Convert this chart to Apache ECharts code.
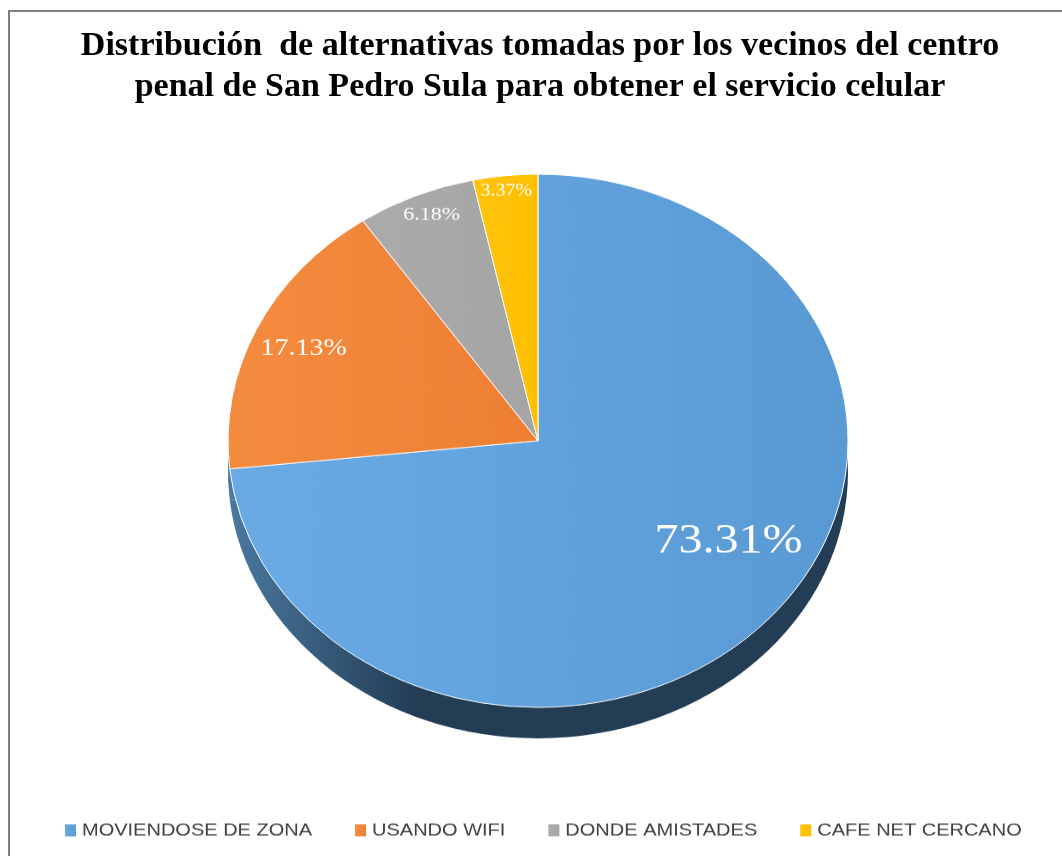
<!DOCTYPE html>
<html>
<head>
<meta charset="utf-8">
<script src="https://cdn.jsdelivr.net/npm/echarts@6/dist/echarts.min.js"></script>
<style>
  html, body { margin: 0; padding: 0; background: #fff; overflow: hidden; }
  #page { position: relative; width: 1062px; height: 856px; overflow: hidden; }
  #frame { position: absolute; left: 8px; top: 10px; width: 1100px; height: 900px;
           border-left: 2px solid #808080; border-top: 2px solid #808080; }
  #titulo { position: absolute; left: 0; top: 0; width: 1062px; height: 130px; }
  /* el pastel se aplana para dar el efecto 3D de Excel */
  #pastel { position: absolute; left: 0; top: 120px; width: 1062px; height: 856px;
            transform: scaleY(0.86); transform-origin: 0 0; }
</style>
</head>
<body>
<div id="page">
  <div id="frame"></div>
  <div id="titulo"></div>
  <div id="pastel"></div>
</div>
<script>
// datos
const categorias = ['MOVIENDOSE DE ZONA', 'USANDO WIFI', 'DONDE AMISTADES', 'CAFE NET CERCANO'];
const porcentajes = [73.31, 17.13, 6.18, 3.37];

// estilos
const coloresCara = [
  ['#6aabe5', '#5a9ad4'],
  ['#f48c3f', '#ee7f33'],
  ['#ababab', '#a5a5a5'],
  ['#ffc40d', '#ffbf00']
];
const coloresLado = [
  ['#4a78a0', '#233d55'],
  ['#4a78a0', '#4a78a0'],
  ['#707070', '#555555'],
  ['#b08a10', '#8a6a00']
];
const tamLetra = [48, 28, 22, 20];
const desplaz = [[73, 12], [-91, -41], [-44, -118], [-15, -133]];

function grad(c, corte) {
  return {
    type: 'linear', x: 0, y: 0, x2: 1, y2: 0,
    colorStops: [{ offset: 0, color: c[0] }, { offset: corte, color: c[1] }, { offset: 1, color: c[1] }]
  };
}

// titulo
var chartTitulo = echarts.init(document.getElementById('titulo'));
chartTitulo.setOption({
  title: {
    text: 'Distribución  de alternativas tomadas por los vecinos del centro\npenal de San Pedro Sula para obtener el servicio celular',
    left: 535,
    top: 21,
    textAlign: 'center',
    textStyle: {
      fontFamily: 'Liberation Serif',
      fontWeight: 'bold',
      fontSize: 34,
      lineHeight: 41,
      color: '#000'
    }
  }
});

// pastel
var myChart = echarts.init(document.getElementById('pastel'));
myChart.setOption({
  animation: false,
  legend: {
    data: categorias,
    left: 58,
    top: 811,
    itemWidth: 13,
    itemHeight: 16,
    itemGap: 41,
    icon: 'rect',
    textStyle: {
      fontFamily: 'Liberation Sans',
      fontSize: 20,
      color: '#404040'
    }
  },
  series: [
    {
      name: 'cara',
      type: 'pie',
      center: [538, 373],
      radius: 310,
      startAngle: 90,
      clockwise: true,
      silent: true,
      z: 3,
      itemStyle: { borderColor: '#ffffff', borderWidth: 1 },
      label: {
        show: true,
        position: 'inside',
        color: '#fff',
        fontFamily: 'Liberation Serif',
        formatter: function (p) { return p.value.toFixed(2) + '%'; }
      },
      labelLayout: function (p) {
        return { dx: desplaz[p.dataIndex][0], dy: desplaz[p.dataIndex][1] };
      },
      data: categorias.map(function (n, i) {
        return {
          name: n,
          value: porcentajes[i],
          itemStyle: { color: grad(coloresCara[i], 1) },
          label: { fontSize: tamLetra[i] }
        };
      })
    },
    {
      name: 'lado',
      type: 'pie',
      center: [538, 409],
      radius: 310,
      startAngle: 90,
      clockwise: true,
      silent: true,
      z: 1,
      label: { show: false },
      labelLine: { show: false },
      data: categorias.map(function (n, i) {
        return {
          name: n,
          value: porcentajes[i],
          itemStyle: { color: grad(coloresLado[i], 0.3) }
        };
      })
    }
  ]
});
</script>
</body>
</html>
